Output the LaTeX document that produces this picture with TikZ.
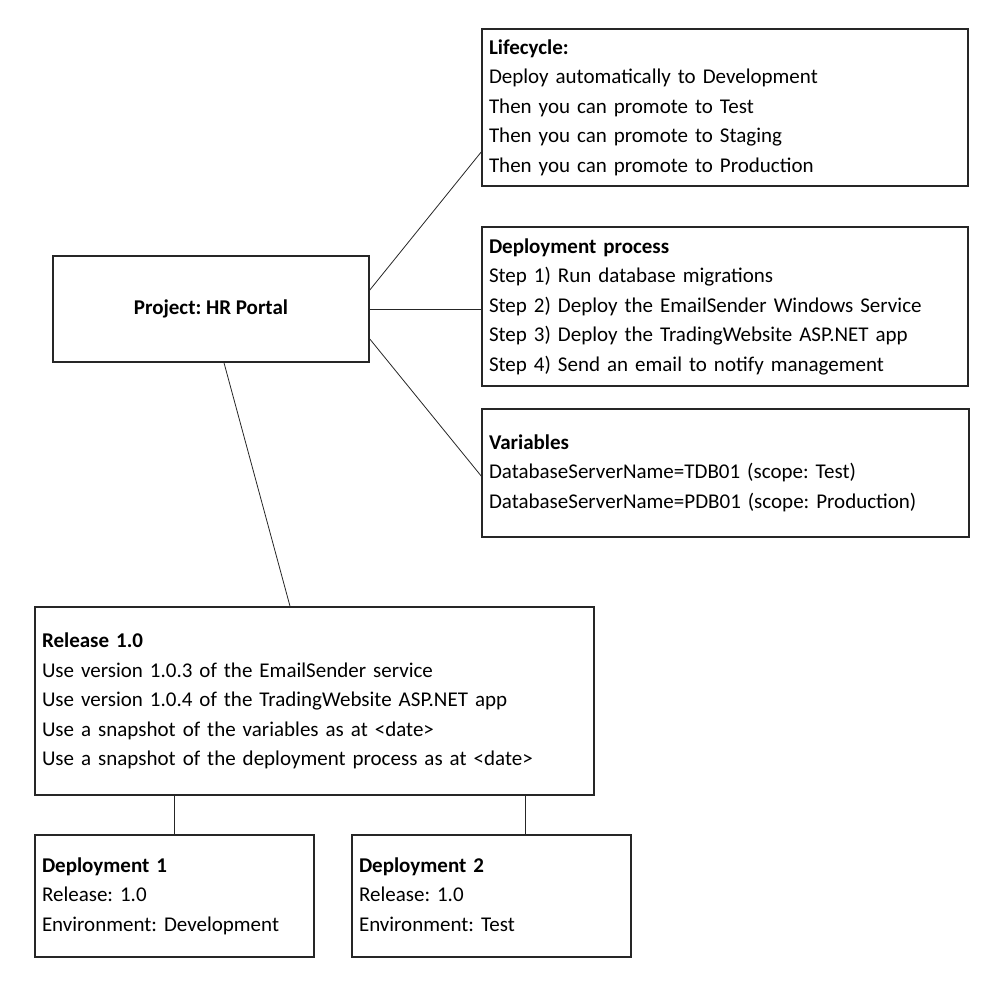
\documentclass[tikz,border=0pt]{standalone}
\usepackage{fontspec}
\setmainfont{Carlito}
\frenchspacing
\begin{document}
\begin{tikzpicture}[x=1pt,y=-1pt,
  box/.style={draw=black!85,line width=1.6pt,rectangle,align=left,inner xsep=7pt,inner ysep=0pt,
    font=\fontsize{21}{29.5}\selectfont},
  link/.style={draw=black!85,line width=0.8pt}]
\useasboundingbox (0,0) rectangle (994,988);
\node[box,text width=472pt,minimum height=157pt] (life) at (725,107.5)
  {\strut\textbf{Lifecycle:}\\Deploy automatically to Development\\Then you can promote to Test\\Then you can promote to Staging\\Then you can promote to Production\strut};
\node[box,text width=472pt,minimum height=159pt] (dep) at (725,306.5)
  {\strut\textbf{Deployment process}\\Step 1) Run database migrations\\Step 2) Deploy the EmailSender Windows Service\\Step 3) Deploy the TradingWebsite ASP.NET app\\Step 4) Send an email to notify management\strut};
\node[box,text width=473pt,minimum height=128pt] (vars) at (725.5,473)
  {\strut\textbf{Variables}\\DatabaseServerName=TDB01 (scope: Test)\\DatabaseServerName=PDB01 (scope: Production)\strut};
\node[box,align=center,minimum width=316pt,minimum height=106pt] (proj) at (211,309)
  {\textbf{Project: HR Portal}};
\node[box,text width=545pt,minimum height=188pt] (rel) at (314.5,701)
  {\strut\textbf{Release 1.0}\\Use version 1.0.3 of the EmailSender service\\Use version 1.0.4 of the TradingWebsite ASP.NET app\\Use a snapshot of the variables as at <date>\\Use a snapshot of the deployment process as at <date>\strut};
\node[box,text width=265pt,minimum height=122pt] (d1) at (174.5,896)
  {\strut\textbf{Deployment 1}\\Release: 1.0\\Environment: Development\strut};
\node[box,text width=265pt,minimum height=122pt] (d2) at (491.5,896)
  {\strut\textbf{Deployment 2}\\Release: 1.0\\Environment: Test\strut};
\draw[link] ([yshift=19pt]proj.east) -- ([yshift=-44.5pt]life.west);
\draw[link] (proj.east) -- (proj.east -| dep.west);
\draw[link] ([yshift=-30pt]proj.east) -- ([yshift=-3pt]vars.west);
\draw[link] ([xshift=13pt]proj.south) -- ([xshift=-24.5pt]rel.north);
\draw[link] (d1.north |- rel.south) -- (d1.north);
\draw[link] ([xshift=33.5pt]d2.north |- rel.south) -- ([xshift=33.5pt]d2.north);
\end{tikzpicture}
\end{document}
